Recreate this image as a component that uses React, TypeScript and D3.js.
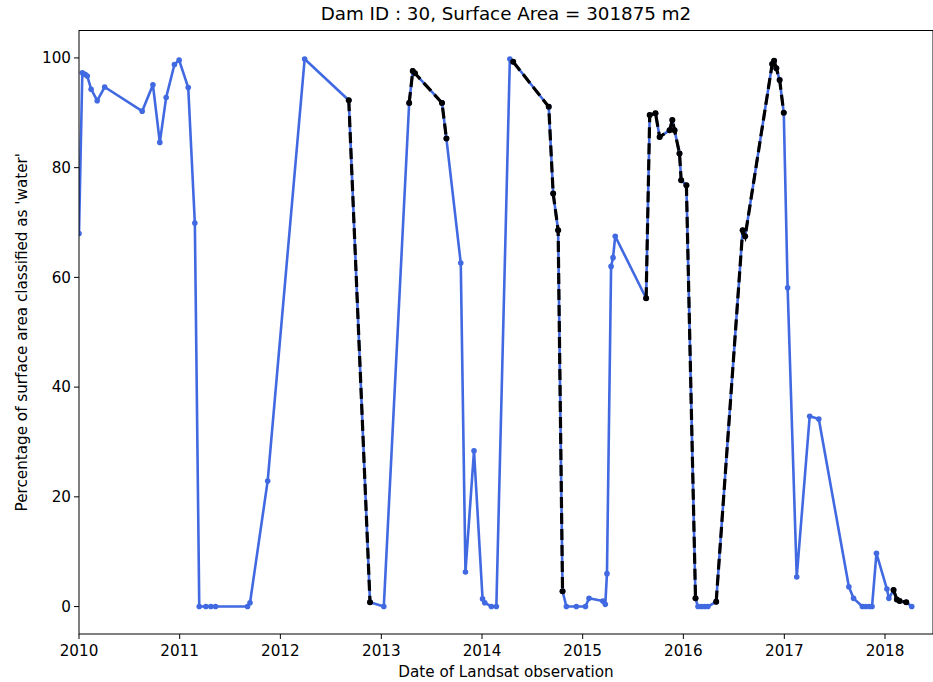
import React from "react";
import * as d3 from "d3";

const dates: string[] = [
  "2010-01-01","2010-01-13","2010-01-23","2010-01-31","2010-02-14","2010-03-08","2010-04-04",
  "2010-08-18","2010-09-26","2010-10-21","2010-11-13","2010-12-13","2010-12-30","2011-02-01",
  "2011-02-25","2011-03-13","2011-04-06","2011-04-24","2011-05-11","2011-09-04","2011-09-13",
  "2011-11-16","2012-03-29","2012-09-05","2012-11-21","2013-01-10","2013-04-12","2013-04-25",
  "2013-05-03","2013-08-09","2013-08-25","2013-10-16","2013-11-02","2013-12-03","2014-01-03",
  "2014-01-11","2014-02-04","2014-02-22","2014-04-12","2014-04-24","2014-08-31","2014-09-16",
  "2014-10-04","2014-10-20","2014-11-03","2014-12-09","2015-01-11","2015-01-24","2015-03-15",
  "2015-03-24","2015-03-30","2015-04-14","2015-04-21","2015-04-29","2015-08-19","2015-09-01",
  "2015-09-22","2015-10-07","2015-11-12","2015-11-22","2015-11-30","2015-12-18","2015-12-24",
  "2016-01-12","2016-02-14","2016-02-23","2016-03-06","2016-03-18","2016-03-30","2016-04-29",
  "2016-08-03","2016-08-12","2016-11-18","2016-11-25","2016-12-03","2016-12-15","2016-12-30",
  "2017-01-13","2017-02-15","2017-04-03","2017-05-06","2017-08-23","2017-09-09","2017-10-11",
  "2017-10-23","2017-11-05","2017-11-15","2017-12-01","2018-01-08","2018-01-15","2018-02-01",
  "2018-02-13","2018-02-23","2018-03-19","2018-04-08",
];

const waterPct: number[] = [
  68, 97.3, 97.0, 96.7, 94.3, 92.2, 94.7,
  90.3, 95.1, 84.6, 92.8, 98.8, 99.6, 94.6,
  69.9, 0, 0, 0, 0, 0, 0.7,
  22.9, 99.8, 92.3, 0.8, 0, 91.8, 97.6,
  97.2, 91.8, 85.3, 62.6, 6.3, 28.4, 1.4,
  0.7, 0, 0, 99.8, 99.3, 91.1, 75.3,
  68.6, 2.8, 0, 0, 0, 1.5, 1.0,
  0.4, 6.0, 62.0, 63.6, 67.5, 56.2, 89.6,
  89.9, 85.6, 86.8, 88.7, 86.8, 82.6, 77.7,
  76.8, 1.5, 0, 0, 0, 0, 0.9,
  68.6, 67.5, 98.9, 99.5, 98.1, 96.0, 90.0,
  58.1, 5.4, 34.7, 34.2, 3.6, 1.5, 0,
  0, 0, 0, 9.7, 3.2, 1.5, 3.0,
  1.3, 1.0, 0.8, 0,
];

// Highlighted (black dashed) periods: [start, end]
const segStarts: string[] = ["2012-09-05","2013-04-12","2014-04-24","2015-08-19","2016-04-29","2018-02-01"];
const segEnds: string[]   = ["2012-11-21","2013-08-25","2014-10-20","2016-02-14","2016-12-30","2018-03-19"];

const xTickYears: number[] = [2010, 2011, 2012, 2013, 2014, 2015, 2016, 2017, 2018];
const yTicks: number[] = [0, 20, 40, 60, 80, 100];

const W = 933, H = 682;
const M = { left: 79, right: 933, top: 30.5, bottom: 634 };
const FONT = "DejaVu Sans, sans-serif";
const BLUE = "#4169E1";
const FS = 15.2;

const parse = (s: string) => {
  const [y, m, d] = s.split("-").map(Number);
  return new Date(Date.UTC(y, m - 1, d));
};

type Pt = { date: Date; v: number };

export default function App() {
  const data: Pt[] = dates.map((d, i) => ({ date: parse(d), v: waterPct[i] }));
  const x = d3.scaleUtc().domain([parse("2010-01-01"), parse("2018-06-24")]).range([M.left, M.right]);
  const y = d3.scaleLinear().domain([-5, 105]).range([M.bottom, M.top]);
  const line = d3.line<Pt>().x((d) => x(d.date)).y((d) => y(d.v));

  const segs = segStarts.map((s, i) => {
    const a = parse(s).getTime(), b = parse(segEnds[i]).getTime();
    return data.filter((d) => d.date.getTime() >= a && d.date.getTime() <= b);
  });

  const fmt = d3.utcFormat("%Y");
  const plotH = M.bottom - M.top;

  return (
    <svg width={W} height={H} style={{ position: "absolute", left: 0, top: 0, background: "#fff" }} fontFamily={FONT}>
      <defs>
        <clipPath id="plotclip">
          <rect x={M.left} y={M.top} width={M.right - M.left} height={plotH} />
        </clipPath>
      </defs>
      <rect x={0} y={0} width={W} height={H} fill="#fff" />
      <g clipPath="url(#plotclip)">
        <path d={line(data) || ""} fill="none" stroke={BLUE} strokeWidth={2.6} strokeLinejoin="round" />
        {data.map((d, i) => (
          <circle key={i} cx={x(d.date)} cy={y(d.v)} r={2.8} fill={BLUE} />
        ))}
        {segs.map((s, i) => (
          <g key={i}>
            <path d={line(s) || ""} fill="none" stroke="#000" strokeWidth={3.2} strokeDasharray="11,5" />
            {s.map((d, j) => (
              <circle key={j} cx={x(d.date)} cy={y(d.v)} r={3} fill="#000" />
            ))}
          </g>
        ))}
      </g>
      <rect x={M.left} y={M.top} width={M.right - M.left} height={plotH} fill="none" stroke="#000" strokeWidth={1} />
      {xTickYears.map((yr) => {
        const d = new Date(Date.UTC(yr, 0, 1));
        const px = x(d);
        return (
          <g key={yr}>
            <line x1={px} x2={px} y1={M.bottom} y2={M.bottom + 5} stroke="#000" />
            <text x={px} y={M.bottom + 22} fontSize={FS} textAnchor="middle" fill="#000">{fmt(d)}</text>
          </g>
        );
      })}
      {yTicks.map((t) => (
        <g key={t}>
          <line x1={M.left - 5} x2={M.left} y1={y(t)} y2={y(t)} stroke="#000" />
          <text x={M.left - 8} y={y(t)} dy="0.35em" fontSize={FS} textAnchor="end" fill="#000">{t}</text>
        </g>
      ))}
      <text x={(M.left + M.right) / 2} y={20} fontSize={18.3} textAnchor="middle" fill="#000">Dam ID : 30, Surface Area = 301875 m2</text>
      <text x={(M.left + M.right) / 2} y={677} fontSize={FS} textAnchor="middle" fill="#000">Date of Landsat observation</text>
      <text transform={`translate(27,${(M.top + M.bottom) / 2}) rotate(-90)`} fontSize={FS} textAnchor="middle" fill="#000">Percentage of surface area classified as 'water'</text>
    </svg>
  );
}
